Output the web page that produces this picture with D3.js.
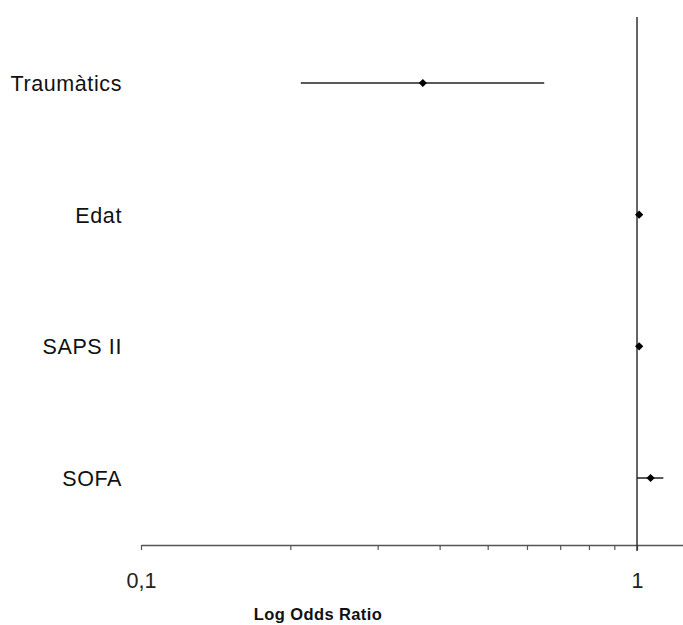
<!DOCTYPE html>
<html>
<head>
<meta charset="utf-8">
<script src="https://cdn.jsdelivr.net/npm/d3@7"></script>
<style>
  html, body { margin: 0; padding: 0; background: #fff; }
  svg { display: block; font-family: "Liberation Sans", Arial, sans-serif; }
</style>
</head>
<body>
<svg id="chart" width="683" height="625"></svg>
<script>
const categories = ["Traumàtics", "Edat", "SAPS II", "SOFA"];
const oddsRatio  = [0.37, 1.01, 1.01, 1.065];
const ciLower    = [0.21, 1.00, 1.00, 1.00];
const ciUpper    = [0.65, 1.02, 1.02, 1.13];
const tickValues = [0.1, 0.2, 0.3, 0.4, 0.5, 0.6, 0.7, 0.8, 0.9, 1];
const tickLabels = {0.1: "0,1", 1: "1"};
const xTitle = "Log Odds Ratio";

const svg = d3.select("#chart");
const x = d3.scaleLog().domain([0.1, 1.238]).range([141, 683]);
const y = d3.scalePoint().domain(categories).range([83, 478]);
const axisY = 545;

// axis
const axis = d3.axisBottom(x)
  .tickValues(tickValues)
  .tickFormat(d => tickLabels[d] || "")
  .tickSize(5)
  .tickSizeOuter(0)
  .tickPadding(23);
const gAxis = svg.append("g").attr("transform", `translate(0,${axisY})`).call(axis);
gAxis.select(".domain").attr("stroke", "#555").attr("stroke-width", 1.5);
gAxis.selectAll(".tick line").attr("stroke", "#555").attr("stroke-width", 1.2);
gAxis.selectAll(".tick text")
  .attr("font-size", 21.5)
  .attr("fill", "#222")
  .attr("font-family", "Liberation Sans, Arial, sans-serif");

// reference line at OR = 1
svg.append("line")
  .attr("x1", x(1)).attr("x2", x(1))
  .attr("y1", 17).attr("y2", 551)
  .attr("stroke", "#333").attr("stroke-width", 1.5);

// axis title
svg.append("text")
  .attr("x", 318).attr("y", 620)
  .attr("text-anchor", "middle")
  .attr("font-size", 16.5)
  .attr("font-weight", "bold")
  .attr("letter-spacing", 0.4)
  .attr("fill", "#111")
  .text(xTitle);

// category labels
svg.append("g").selectAll("text").data(categories).join("text")
  .attr("x", 122)
  .attr("y", d => y(d) + 8)
  .attr("text-anchor", "end")
  .attr("font-size", 21.5)
  .attr("letter-spacing", 0.6)
  .attr("fill", "#111")
  .text(d => d);

// error bars
const rows = categories.map((c, i) => ({c, or: oddsRatio[i], lo: ciLower[i], hi: ciUpper[i]}));
svg.append("g").selectAll("line").data(rows).join("line")
  .attr("x1", d => x(d.lo)).attr("x2", d => x(d.hi))
  .attr("y1", d => y(d.c)).attr("y2", d => y(d.c))
  .attr("stroke", "#222").attr("stroke-width", 1.5);

// diamonds (square rotated 45 degrees)
const diamond = d3.symbol().type(d3.symbolSquare).size(34);
svg.append("g").selectAll("path").data(rows).join("path")
  .attr("transform", d => `translate(${x(d.or)},${y(d.c)}) rotate(45)`)
  .attr("d", diamond)
  .attr("fill", "#000");
</script>
</body>
</html>
